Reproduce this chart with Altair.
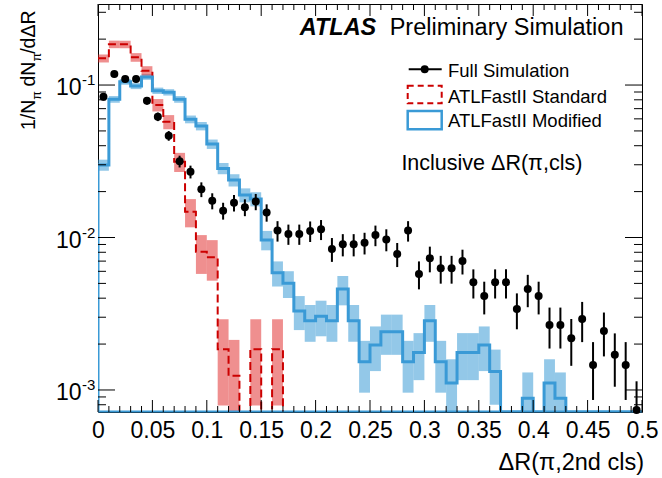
import altair as alt
import numpy as np
import pandas as pd

# Binning: 50 bins of width 0.01 in dR(pi, 2nd cluster)
EDGES = np.round(np.arange(0, 0.5001, 0.01), 2)

# Full simulation (points with statistical errors)
full_sim = [0.0838, 0.118, 0.1094, 0.1094, 0.0789, 0.062, 0.0465, 0.0316, 0.027, 0.0207,
            0.0174, 0.015, 0.0169, 0.0158, 0.0172, 0.0146, 0.0111, 0.01055, 0.01055, 0.01104,
            0.01132, 0.00842, 0.00902, 0.00902, 0.00924, 0.01037, 0.00972, 0.0078, 0.0111, 0.00577,
            0.00731, 0.00628, 0.00628, 0.00702, 0.00508, 0.00413, 0.00508, 0.00508, 0.0034, 0.00459,
            0.00413, 0.00267, 0.00267, 0.00218, 0.00292, 0.00146, 0.00244, 0.0017, 0.00146, 0.00074]
full_err = [0.0046, 0.0055, 0.0053, 0.0053, 0.0045, 0.004, 0.0034, 0.0028, 0.0026, 0.0023,
            0.0021, 0.0019, 0.0021, 0.002, 0.0021, 0.0019, 0.0017, 0.0016, 0.0016, 0.0017,
            0.0017, 0.0015, 0.0015, 0.0015, 0.0015, 0.0016, 0.0016, 0.0014, 0.0017, 0.0012,
            0.0014, 0.0013, 0.0013, 0.0013, 0.0011, 0.001, 0.0011, 0.0011, 0.0009, 0.0011,
            0.001, 0.0008, 0.0008, 0.00074, 0.00086, 0.0006, 0.00078, 0.00065, 0.0006, 0.0004]

# ATLFastII Standard (histogram with error band)
fast_std = [0.1496, 0.185, 0.185, 0.152, 0.124, 0.074, 0.0574, 0.0314, 0.01476, 0.00807,
            0.00741, 0.00185, 0.00124, 0, 0.00185, 0, 0.00185, 0, 0, 0,
            0, 0, 0, 0, 0, 0, 0, 0, 0, 0,
            0, 0, 0, 0, 0, 0, 0, 0, 0, 0,
            0, 0, 0, 0, 0, 0, 0, 0, 0, 0]
fast_std_err = [0.009, 0.0105, 0.0105, 0.0099, 0.0089, 0.0069, 0.0061, 0.0045, 0.0031, 0.0023,
                0.0022, 0.00106, 0.00089, 0, 0.00106, 0, 0.00106, 0, 0, 0,
                0, 0, 0, 0, 0, 0, 0, 0, 0, 0,
                0, 0, 0, 0, 0, 0, 0, 0, 0, 0,
                0, 0, 0, 0, 0, 0, 0, 0, 0, 0]

# ATLFastII Modified (histogram with error band)
fast_mod = [0.0299, 0.0806, 0.105, 0.0985, 0.113, 0.0918, 0.0896, 0.0806, 0.0596, 0.0538,
            0.041, 0.0284, 0.0238, 0.019, 0.0179, 0.00964, 0.00587, 0.00501, 0.0033, 0.00284,
            0.00305, 0.00284, 0.00459, 0.00284, 0.00153, 0.00197, 0.00241, 0.00241, 0.00153, 0.00176,
            0.00284, 0.00153, 0.00111, 0.00176, 0.00176, 0.00197, 0.00132, 0, 0, 0.000883,
            0, 0.00111, 0.000883, 0, 0, 0, 0, 0, 0, 0]
fast_mod_err = [0.0025, 0.0041, 0.0047, 0.0045, 0.0049, 0.0044, 0.0043, 0.0041, 0.0035, 0.0034,
                0.0029, 0.0024, 0.0022, 0.002, 0.0019, 0.0014, 0.0011, 0.001, 0.00083, 0.00077,
                0.0008, 0.00077, 0.001, 0.00077, 0.00057, 0.00064, 0.00071, 0.00071, 0.00057, 0.0006,
                0.00077, 0.00057, 0.00048, 0.0006, 0.0006, 0.00064, 0.00052, 0, 0, 0.00042,
                0, 0.00048, 0.00042, 0, 0, 0, 0, 0, 0, 0]

x_tick_labels = [0, 0.05, 0.1, 0.15, 0.2, 0.25, 0.3, 0.35, 0.4, 0.45, 0.5]
y_decades = [0.001, 0.01, 0.1]
y_exponents = ["-3", "-2", "-1"]

Y_MIN, Y_MAX = 7.17e-4, 0.34
W, H = 544, 408
FONT = "Liberation Sans"
RED = "#cc0000"
BLUE = "#3a9ad6"

x_scale = alt.Scale(domain=[0, 0.5], nice=False, zero=False)
y_scale = alt.Scale(type="log", domain=[Y_MIN, Y_MAX], nice=False)
x_axis = alt.Axis(values=x_tick_labels, format="~g", labelFlush=False, ticks=False, tickSize=0,
                  domain=False, grid=False, labelFont=FONT, labelFontSize=23, labelColor="black",
                  labelPadding=7, title=None, labelOverlap=False)


def X(field):
    return alt.X(field, type="quantitative", scale=x_scale, axis=x_axis)


def Y(field):
    return alt.Y(field, type="quantitative", scale=y_scale, axis=None)


def step_table(vals, from_floor):
    xs = list(EDGES[:-1]) + [0.5]
    ys = [v if v > 0 else Y_MIN for v in vals]
    ys = ys + [ys[-1]]
    if from_floor:
        xs = [0.0] + xs
        ys = [Y_MIN] + ys
    return pd.DataFrame({"x": xs, "y": ys, "o": range(len(xs))})


def band_table(vals, errs):
    rows = []
    for i, (v, e) in enumerate(zip(vals, errs)):
        if v > 0:
            rows.append({"x0": EDGES[i], "x1": EDGES[i + 1],
                         "lo": max(v - e, Y_MIN), "hi": v + e})
    return pd.DataFrame(rows)


centers = (EDGES[:-1] + EDGES[1:]) / 2
points = pd.DataFrame({"x": centers, "y": full_sim,
                       "lo": [max(v - e, Y_MIN) for v, e in zip(full_sim, full_err)],
                       "hi": [v + e for v, e in zip(full_sim, full_err)]})

one = pd.DataFrame({"a": [0]})

layers = []

# error bands
layers.append(alt.Chart(band_table(fast_mod, fast_mod_err)).mark_rect(
    clip=True, fill=BLUE, opacity=0.55).encode(x=X("x0"), x2="x1", y=Y("lo"), y2="hi"))
layers.append(alt.Chart(band_table(fast_std, fast_std_err)).mark_rect(
    clip=True, fill="#e02020", opacity=0.5).encode(x=X("x0"), x2="x1", y=Y("lo"), y2="hi"))

# histogram outlines
layers.append(alt.Chart(step_table(fast_std, False)).mark_line(
    interpolate="step-after", clip=True, color=RED, strokeWidth=2, strokeDash=[8, 4]
).encode(x=X("x"), y=Y("y"), order="o:Q"))
layers.append(alt.Chart(step_table(fast_mod, True)).mark_line(
    interpolate="step-after", clip=True, color=BLUE, strokeWidth=3
).encode(x=X("x"), y=Y("y"), order="o:Q"))
layers.append(alt.Chart(one).mark_rule(color=BLUE, strokeWidth=2).encode(
    x=alt.value(0), x2=alt.value(W), y=alt.value(H - 0.5)))

# full simulation points
layers.append(alt.Chart(points).mark_rule(color="black", strokeWidth=2, clip=True).encode(
    x=X("x"), y=Y("lo"), y2="hi"))
layers.append(alt.Chart(points).mark_point(
    filled=True, shape="circle", size=64, color="black", opacity=1).encode(x=X("x"), y=Y("y")))

# x ticks (inside the frame, bottom and top)
xt = pd.DataFrame({"x": EDGES})
xt["major"] = [round(v * 100) % 5 == 0 for v in EDGES]
xt_major = xt[xt.major]
xt_minor = xt[~xt.major]
for d, ln in ((xt_major, 12), (xt_minor, 6)):
    layers.append(alt.Chart(d).mark_rule(color="black", strokeWidth=1).encode(
        x=X("x"), y=alt.value(H), y2=alt.value(H - ln)))
    layers.append(alt.Chart(d).mark_rule(color="black", strokeWidth=1).encode(
        x=X("x"), y=alt.value(0), y2=alt.value(ln)))

# y ticks (inside the frame, left and right)
y_minor = [m * 10.0 ** e for e in (-4, -3, -2, -1) for m in range(2, 10)]
y_minor = [v for v in y_minor if Y_MIN <= v <= Y_MAX]
for vals, ln in ((y_decades, 17), (y_minor, 8)):
    d = pd.DataFrame({"v": vals})
    layers.append(alt.Chart(d).mark_rule(color="black", strokeWidth=1).encode(
        y=Y("v"), x=alt.value(0), x2=alt.value(ln)))
    layers.append(alt.Chart(d).mark_rule(color="black", strokeWidth=1).encode(
        y=Y("v"), x=alt.value(W), x2=alt.value(W - ln)))

# y tick labels 10^n
ylab = pd.DataFrame({"v": y_decades, "base": ["10"] * 3, "sup": y_exponents})
layers.append(alt.Chart(ylab).mark_text(
    font=FONT, fontSize=23, align="right", baseline="middle", dy=3, color="black").encode(
    y=Y("v"), x=alt.value(-16.5), text="base:N"))
layers.append(alt.Chart(ylab).mark_text(
    font=FONT, fontSize=15, align="left", baseline="middle", dy=-5, color="black").encode(
    y=Y("v"), x=alt.value(-16), text="sup:N"))


def label(txt, x, y, size, **kw):
    return alt.Chart(one).mark_text(font=FONT, fontSize=size, color="black", **kw).encode(
        x=alt.value(x), y=alt.value(y), text=alt.value(txt))


# axis titles
layers.append(label("\u0394R(\u03c0,2nd cls)", W + 2, 466, 23.5, align="right", baseline="alphabetic"))
# rotated y title, drawn piece by piece so the pi can sit as a subscript
ytitle = [("1/N", 126, 19.5, -63), ("\u03c0", 95.7, 12.5, -57.5),
          ("dN", 82.5, 19.5, -63), ("\u03c0", 57.6, 12.5, -57.5), ("/d\u0394R", 49.8, 19.5, -63)]
for txt, yy, fs, xx in ytitle:
    layers.append(label(txt, xx, yy, fs, align="left", baseline="alphabetic", angle=270))

# ATLAS label
layers.append(label("ATLAS", 201.7, 31, 23.5, align="left", baseline="alphabetic",
                    fontWeight="bold", fontStyle="italic"))
layers.append(label("Preliminary Simulation", 291.7, 31, 23.5, align="left", baseline="alphabetic"))

# legend
layers.append(alt.Chart(one).mark_rule(color="black", strokeWidth=2).encode(
    x=alt.value(310.7), x2=alt.value(343.7), y=alt.value(65.3)))
layers.append(alt.Chart(one).mark_point(filled=True, shape="circle", size=64, color="black",
                                        opacity=1).encode(x=alt.value(326.7), y=alt.value(65.3)))
layers.append(alt.Chart(one).mark_rect(fill="white", fillOpacity=0, stroke=RED, strokeWidth=2,
                                       strokeDash=[6, 4]).encode(
    x=alt.value(309.7), x2=alt.value(343.7), y=alt.value(81.7), y2=alt.value(99.3)))
layers.append(alt.Chart(one).mark_rect(fill="white", fillOpacity=0, stroke=BLUE, strokeWidth=2.5).encode(
    x=alt.value(309.7), x2=alt.value(343.7), y=alt.value(107), y2=alt.value(125.3)))
layers.append(label("Full Simulation", 350, 72.7, 18.5, align="left", baseline="alphabetic"))
layers.append(label("ATLFastII Standard", 350, 98.7, 18.5, align="left", baseline="alphabetic"))
layers.append(label("ATLFastII Modified", 350, 123.3, 18.5, align="left", baseline="alphabetic"))
layers.append(label("Inclusive \u0394R(\u03c0,cls)", 303.4, 166, 21.5, align="left", baseline="alphabetic"))

chart = alt.layer(*layers).properties(
    width=W, height=H,
    padding={"left": 98, "top": 4, "right": 20, "bottom": 66},
    autosize=alt.AutoSizeParams(type="none"),
).configure_view(stroke="black", strokeWidth=1)

chart.save("out.html", embed_options={"renderer": "svg", "actions": False})
